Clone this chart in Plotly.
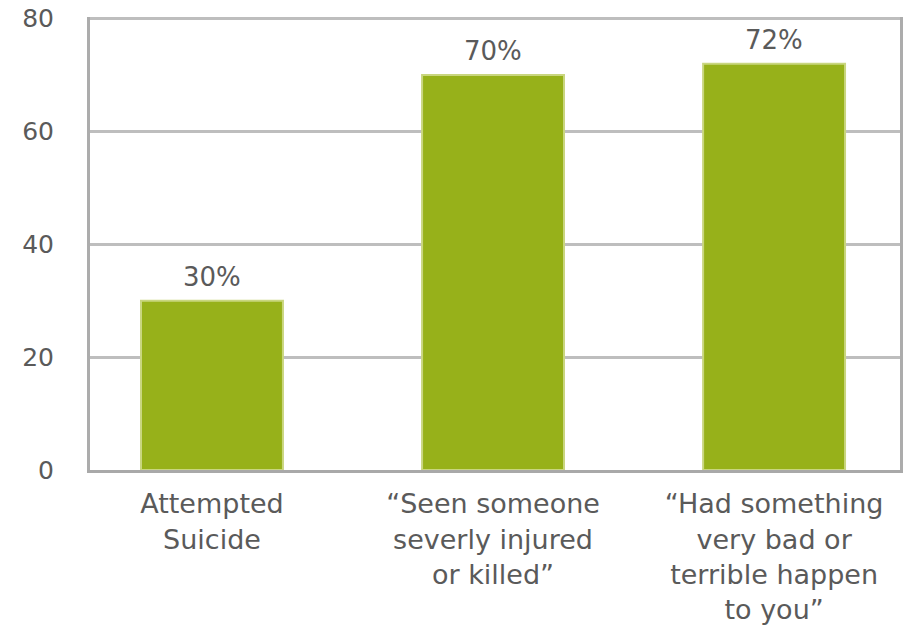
import plotly.graph_objects as go

categories = [
    "Attempted<br>Suicide",
    "\u201cSeen someone<br>severly injured<br>or killed\u201d",
    "\u201cHad something<br>very bad or<br>terrible happen<br>to you\u201d",
]
values = [30, 70, 72]
labels = ["30%", "70%", "72%"]
y_ticks = [0, 20, 40, 60, 80]

x_pos = list(range(len(categories)))

fig = go.Figure(
    go.Bar(
        x=x_pos,
        y=values,
        marker=dict(color="#97B11A", line=dict(color="#C9D67F", width=2)),
        width=0.505,
    )
)

for xi, v, lab in zip(x_pos, values, labels):
    fig.add_annotation(
        x=xi, y=v, text=lab, showarrow=False,
        yanchor="bottom", yshift=7,
        font=dict(size=26, color="#5A5A5A", family="DejaVu Sans"),
    )

fig.update_layout(
    width=910,
    height=638,
    margin=dict(l=90, r=10, t=17, b=168),
    paper_bgcolor="white",
    plot_bgcolor="white",
    showlegend=False,
    font=dict(family="DejaVu Sans", color="#5A5A5A"),
)
fig.update_xaxes(
    range=[-0.434, 2.448],
    tickmode="array",
    tickvals=x_pos,
    ticktext=categories,
    tickfont=dict(size=27, color="#5A5A5A"),
    showline=True,
    linecolor="#A9A9A9",
    linewidth=3,
    showgrid=False,
    ticks="",
    ticklabelstandoff=8,
    automargin=False,
)
fig.update_yaxes(
    range=[0, 80.3],
    tickvals=y_ticks,
    tickfont=dict(size=25, color="#5A5A5A"),
    showgrid=True,
    gridcolor="#BEBEBE",
    gridwidth=3,
    zeroline=False,
    showline=True,
    mirror=True,
    linecolor="#ACACAC",
    linewidth=3,
    ticks="",
    ticklabelstandoff=28,
    automargin=False,
)

fig.write_html("out.html")
